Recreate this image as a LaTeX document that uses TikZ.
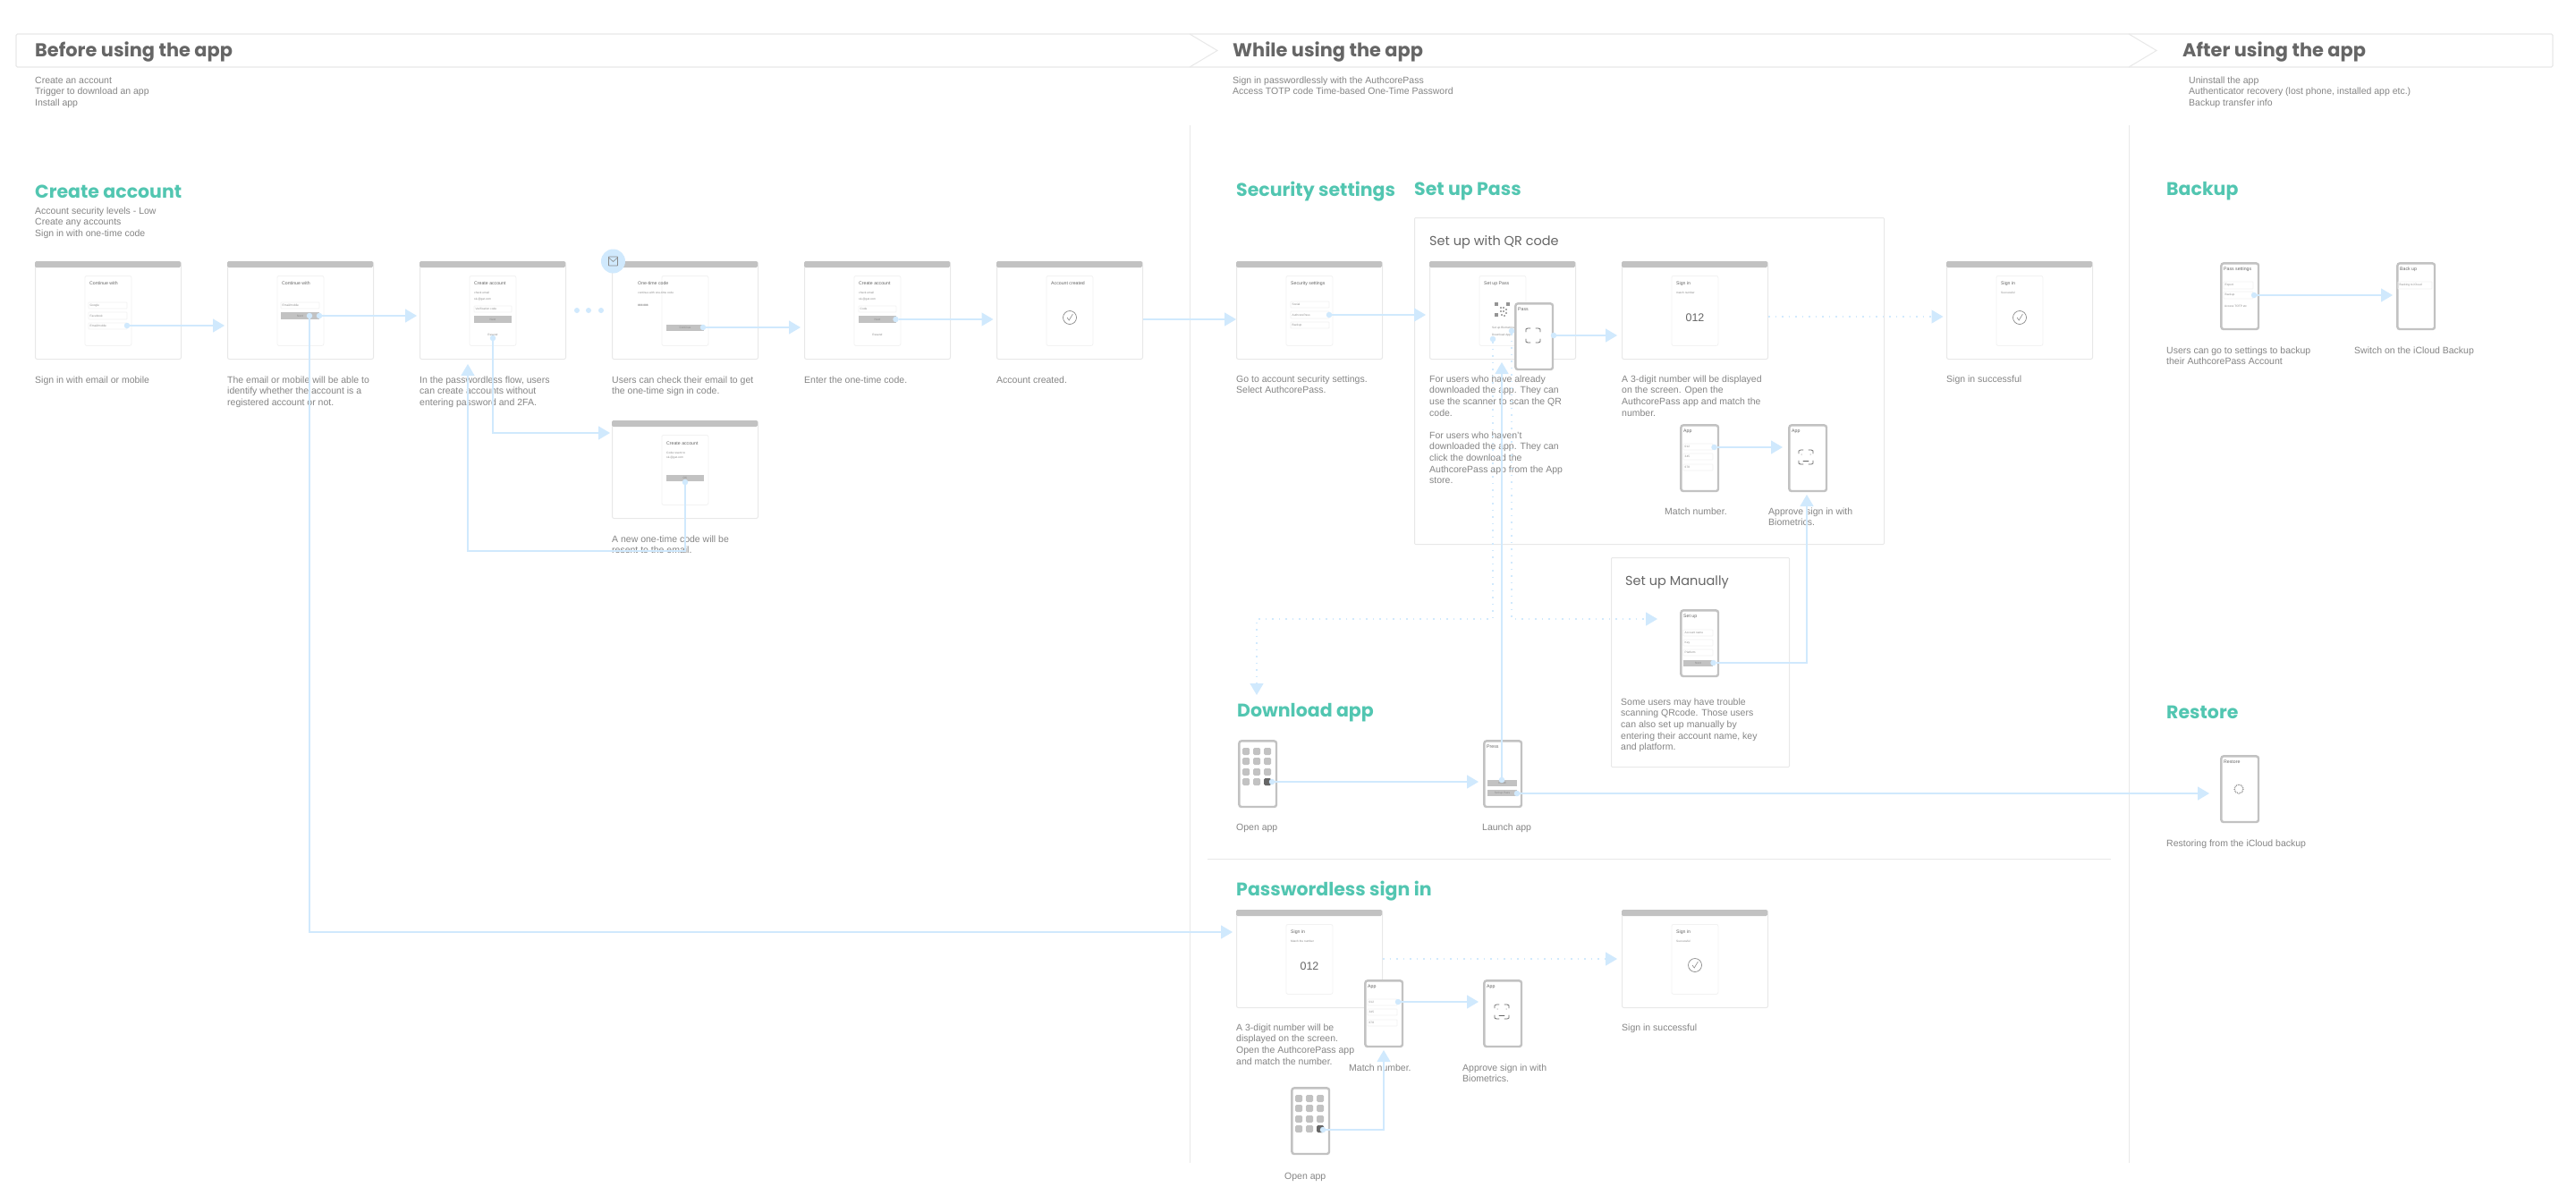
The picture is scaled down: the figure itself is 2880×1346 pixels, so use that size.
\documentclass[tikz,border=0pt]{standalone}
\usepackage{fontspec}
\setmainfont{Liberation Sans}
\newfontfamily\popf{Poppins}
\usetikzlibrary{arrows.meta}
\definecolor{flowc}{HTML}{D0E9FD}
\definecolor{teal1}{HTML}{52C6B1}
\definecolor{hdtxt}{HTML}{666666}
\definecolor{captxt}{HTML}{858585}
\definecolor{uigray}{HTML}{C2C2C2}
\definecolor{edge1}{HTML}{E8E8E8}
\definecolor{edge2}{HTML}{F2F2F2}
\definecolor{tinyc}{HTML}{8A8A8A}
\newcounter{nc}
\tikzset{
 flow/.style={draw=flowc,line width=1.3pt,-{Triangle[length=13pt,width=15pt,fill=flowc]}},
 flowdot/.style={flow,dash pattern=on 1.5pt off 6pt},
 startdot/.style={circle,fill=flowc,inner sep=0pt,minimum size=6.5pt},
 framebox/.style={draw=edge1,fill=white,line width=1pt,rounded corners=2pt,inner sep=0pt,minimum width=163pt,minimum height=109pt,anchor=north west},
 cardbox/.style={draw=edge2,fill=white,line width=.8pt,rounded corners=2pt,inner sep=0pt,minimum width=52pt,minimum height=78pt,anchor=north west},
 phonebox/.style={draw=uigray,fill=white,line width=2.4pt,rounded corners=2.5pt,inner sep=0pt,minimum width=41.6pt,minimum height=73.6pt,anchor=north west},
 groupbox/.style={draw=edge1,line width=1pt,rounded corners=1pt,inner sep=0pt,anchor=north west},
 divider/.style={draw=edge1,line width=1pt},
 bigt/.style={font=\popf\bfseries\fontsize{20.9}{24}\selectfont,text=hdtxt,anchor=west,inner sep=0pt},
 sect/.style={font=\popf\bfseries\fontsize{20.5}{24}\selectfont,text=teal1,anchor=west,inner sep=0pt},
 subt/.style={font=\popf\fontsize{14.5}{18}\selectfont,text=hdtxt,anchor=west,inner sep=0pt},
 captn/.style={font=\fontsize{10.5}{12.67}\selectfont,text=captxt,align=left,anchor=north west,inner sep=0pt},
 tiny1/.style={font=\fontsize{3.2}{4}\selectfont,text=tinyc,inner sep=0pt},
 title1/.style={font=\fontsize{5.2}{6}\selectfont,text=hdtxt,inner sep=0pt,anchor=west},
 field1/.style={draw=edge2,line width=.7pt,rounded corners=.6pt},
 btn1/.style={fill=uigray},
 uiln/.style={draw=hdtxt,line width=.7pt,line cap=round}
}
\newcommand\bigT[3]{\stepcounter{nc}\node (n\arabic{nc}) [bigt] at ({#1},{#2+1}) {#3};}
\newcommand\secT[3]{\stepcounter{nc}\node (n\arabic{nc}) [sect] at ({#1},{#2+1}) {#3};}
\newcommand\subT[3]{\stepcounter{nc}\node (n\arabic{nc}) [subt] at ({#1},{#2+1}) {#3};}
\newcommand\capT[3]{\stepcounter{nc}\node (n\arabic{nc}) [captn] at ({#1},{#2-4}) {\rule{0pt}{8pt}#3};}
\newcommand\mt[3]{\stepcounter{nc}\node (n\arabic{nc}) [tiny1,anchor=west] at ({#1},{#2}) {#3};}
\newcommand\mc[3]{\stepcounter{nc}\node (n\arabic{nc}) [tiny1] at ({#1},{#2}) {#3};}
\newcommand\ttl[3]{\stepcounter{nc}\node (n\arabic{nc}) [title1] at ({#1},{#2}) {#3};}
\newcommand\fld[5]{\draw[field1] (#1,#2) rectangle (#3,#4);\mt{#1+1.5}{(#2+#4)/2}{#5}}
\newcommand\btn[5]{\fill[btn1] (#1,#2) rectangle (#3,#4);\mc{(#1+#3)/2}{(#2+#4)/2}{#5}}
\newcommand\chk[2]{\draw[draw=tinyc,line width=.7pt] (#1,#2) circle[radius=7.5];
 \draw[draw=tinyc,line width=.6pt] ({#1-3},{#2}) -- ({#1-.8},{#2+3}) -- ({#1+3.4},{#2-4});}
\newcommand\scan[2]{\begin{scope}[shift={(#1,#2)}]
 \draw[uiln] (-8,-4) -- (-8,-7) -- (-6,-8) -- (-3,-8);\draw[uiln] (8,-4) -- (8,-7) -- (6,-8) -- (3,-8);
 \draw[uiln] (-8,4) -- (-8,7) -- (-6,8) -- (-3,8);\draw[uiln] (8,4) -- (8,7) -- (6,8) -- (3,8);\end{scope}}
\newcommand\browser[4]{%
 \node (#1) [framebox] at (#2,#3) {};
 \begin{scope}[shift={(#2,#3)}]
 \fill[uigray,rounded corners=1.5pt] (0,7) -- (0,0) -- (163,0) -- (163,7) -- cycle;
 \node (#1card) [cardbox] at (55.5,16) {};
 #4
 \end{scope}}
\newcommand\phone[5]{%
 \node (#1) [phonebox] at ({#2+1.2},{#3+1.2}) {};
 \begin{scope}[shift={(#2,#3)}]
 \ttl{5}{9}{#4}
 #5
 \end{scope}}
\newcommand\homeicons{\foreach \ya in {14,25,37,48}{\foreach \xa in {10,22,34}{\fill[uigray,rounded corners=1.5pt] (\xa-4,\ya-4) rectangle (\xa+4,\ya+4);}}
 \fill[hdtxt,rounded corners=1.5pt] (30,44) rectangle (38,52);}
\begin{document}
\begin{tikzpicture}[x=1pt,y=-1pt]
\useasboundingbox (0,0) rectangle (2880,1346);
\fill[white] (0,0) rectangle (2880,1346);

% header band
\draw[draw=edge1,line width=1.2pt,rounded corners=1.5pt] (18,38) rectangle (2854,75);
\fill[white] (1330,38.8) -- (1361,56.5) -- (1330,74.2) -- cycle;
\fill[white] (2380,38.8) -- (2411,56.5) -- (2380,74.2) -- cycle;
\draw[draw=edge1,line width=1pt] (1330,38) -- (1361,56.5) -- (1330,75);
\draw[draw=edge1,line width=1pt] (2380,38) -- (2411,56.5) -- (2380,75);
\bigT{39}{57}{Before using the app}
\bigT{1378}{57}{While using the app}
\bigT{2440}{57}{After using the app}
\capT{39}{89}{Create an account\\Trigger to download an app\\Install app}
\capT{1378}{89}{Sign in passwordlessly with the AuthcorePass\\Access TOTP code Time-based One-Time Password}
\capT{2447}{89}{Uninstall the app\\Authenticator recovery (lost phone, installed app etc.)\\Backup transfer info}

% dividers
\coordinate (v1t) at (1330,140);\coordinate (v1b) at (1330,1300);
\coordinate (v2t) at (2380,140);\coordinate (v2b) at (2380,1300);
\coordinate (h1l) at (1350,960);\coordinate (h1r) at (2360,960);
\draw[divider] (v1t) -- (v1b);
\draw[divider] (v2t) -- (v2b);
\draw[divider] (h1l) -- (h1r);

% section headings
\secT{39}{213}{Create account}
\capT{39}{235}{Account security levels - Low\\Create any accounts\\Sign in with one-time code}
\secT{1382}{213}{Security settings}
\secT{1581}{213}{Set up Pass}
\secT{2422}{213}{Backup}
\secT{1383}{796}{Download app}
\secT{2422}{795}{Restore}
\secT{1382}{995}{Passwordless sign in}

% group boxes
\node (qrbox) [groupbox,minimum width=525pt,minimum height=365pt] at (1581,243) {};
\node (manbox) [groupbox,minimum width=199pt,minimum height=234pt] at (1801,623) {};
\subT{1598}{270}{Set up with QR code}
\subT{1817}{650}{Set up Manually}

% screens
\browser{f1}{39}{292}{\ttl{61}{25}{Continue with}
 \fld{60}{46}{103}{53}{Google}\fld{60}{57}{103}{65}{Facebook}\fld{60}{69}{103}{76}{Email/mobile}}
\browser{f2}{254}{292}{\ttl{61}{25}{Continue with}
 \fld{60}{46}{103}{53}{Email/mobile}\btn{60}{57}{103}{65}{Next}}
\browser{f3}{469}{292}{\ttl{61}{25}{Create account}\mt{61}{35}{check email}\mt{61}{43}{sk-@gat.com}
 \fld{61}{50}{103}{57}{Verification code}\btn{61}{61}{103}{69}{Next}\mc{82}{82}{Resend}}
\browser{f4}{684}{292}{\ttl{29}{25}{One-time code}\mt{29}{35}{continue with one-time code}
 \mt{29}{49}{\bfseries 888 888}\btn{61}{71}{103}{78}{Continue}}
\browser{f5}{899}{292}{\ttl{61}{25}{Create account}\mt{61}{35}{check email}\mt{61}{43}{sk-@gat.com}
 \fld{61}{50}{103}{57}{Code}\btn{61}{61}{103}{69}{Next}\mc{82}{82}{Resend}}
\browser{f6}{1114}{292}{\ttl{61}{25}{Account created}\chk{82}{63}}
\browser{f11}{684}{470}{\ttl{61}{26}{Create account}\mt{61}{36}{Code resent to}\mt{61}{42}{sk-@gat.com}
 \btn{61}{61}{103}{68}{OK}}
\browser{f7}{1382}{292}{\ttl{61}{25}{Security settings}
 \fld{61}{45}{104}{52}{Social}\fld{61}{56}{104}{64}{AuthcorePass}\fld{61}{68}{104}{75}{Backup}}
\browser{f8}{1598}{292}{\ttl{61}{25}{Set up Pass}
 \foreach \qx/\qy in {75/48,88/48,75/60}{\fill[hdtxt!70] (\qx-2,\qy-2) rectangle (\qx+2,\qy+2);}
 \foreach \qx/\qy in {80/52,83/52,80/56,83/56,86/54,86/58,81/60,84/61}{\fill[hdtxt!55] (\qx-.6,\qy-.6) rectangle (\qx+.6,\qy+.6);}
 \mt{70}{75}{Set up Biometrics}\mt{70}{83}{Download App}}
\browser{f9}{1813}{292}{\ttl{61}{25}{Sign in}\mt{61}{35}{match number}
 \stepcounter{nc}\node (n\arabic{nc}) [font=\fontsize{12.5}{14}\selectfont,text=hdtxt,inner sep=0pt] at (82,63) {012};}
\browser{f10}{2176}{292}{\ttl{61}{25}{Sign in}\mt{61}{35}{Successful}\chk{82}{63}}
\browser{f12}{1382}{1017}{\ttl{61}{25}{Sign in}\mt{61}{35}{Match the number}
 \stepcounter{nc}\node (n\arabic{nc}) [font=\fontsize{12.5}{14}\selectfont,text=hdtxt,inner sep=0pt] at (82,63) {012};}
\browser{f13}{1813}{1017}{\ttl{61}{25}{Sign in}\mt{61}{35}{Successful}\chk{82}{62}}

% phones
\phone{p1}{1692}{337}{Pass}{\scan{22}{38}}
\phone{p2}{1877}{473}{App}{\fld{5}{23}{38}{30}{012}\fld{5}{34}{38}{41}{345}\fld{5}{46}{38}{53}{678}}
\phone{p3}{1998}{473}{App}{\scan{21}{38}\fill[hdtxt] (16,35) circle[radius=.5];\fill[hdtxt] (26,35) circle[radius=.5];\draw[uiln] (18,42) -- (24,42);}
\phone{p4}{1877}{680}{Set up}{\fld{5}{24}{38}{31}{Account name}\fld{5}{35}{38}{42}{Key}\fld{5}{46}{38}{53}{Platform}\btn{5}{58}{38}{65}{Next}}
\node (p5) [phonebox] at (1384.2,827.2) {};
\begin{scope}[shift={(1383,826)}]\homeicons\end{scope}
\phone{p6}{1657}{826}{Press}{\btn{6}{46}{39}{53}{Install}\btn{6}{57}{39}{64}{Set up Pass}}
\phone{p7}{2481}{843}{Restore}{\draw[draw=tinyc,line width=1.4pt,dash pattern=on .8pt off 1pt] (22,39) circle[radius=5];}
\phone{p8}{2481}{292}{Pass settings}{\fld{5}{23}{38}{31}{Export}\fld{5}{34}{38}{42}{Backup}\mt{6}{50}{Access TOTP etc}}
\phone{p9}{2678}{292}{Back up}{\fld{3}{23}{41}{31}{Backing to iCloud}}
\phone{p10}{1524}{1094}{App}{\fld{5}{23}{38}{30}{012}\fld{5}{34}{38}{41}{345}\fld{5}{46}{38}{53}{678}}
\phone{p11}{1657}{1094}{App}{\scan{22}{37}\fill[hdtxt] (17,34) circle[radius=.5];\fill[hdtxt] (27,34) circle[radius=.5];\draw[uiln] (19,41) -- (25,41);}
\node (p12) [phonebox] at (1443.2,1215.2) {};
\begin{scope}[shift={(1442,1214)}]\homeicons\end{scope}

% captions
\capT{39}{424}{Sign in with email or mobile}
\capT{254}{424}{The email or mobile will be able to\\identify whether the account is a\\registered account or not.}
\capT{469}{424}{In the passwordless flow, users\\can create accounts without\\entering password and 2FA.}
\capT{684}{424}{Users can check their email to get\\the one-time sign in code.}
\capT{899}{424}{Enter the one-time code.}
\capT{1114}{424}{Account created.}
\capT{684}{602}{A new one-time code will be\\resent to the email.}
\capT{1382}{423}{Go to account security settings.\\Select AuthcorePass.}
\capT{1598}{423}{For users who have already\\downloaded the app. They can\\use the scanner to scan the QR\\code.}
\capT{1598}{486}{For users who haven't\\downloaded the app. They can\\click the download the\\AuthcorePass app from the App\\store.}
\capT{1813}{423}{A 3-digit number will be displayed\\on the screen. Open the\\AuthcorePass app and match the\\number.}
\capT{2176}{423}{Sign in successful}
\capT{1861}{571}{Match number.}
\capT{1977}{571}{Approve sign in with\\Biometrics.}
\capT{1812}{784}{Some users may have trouble\\scanning QRcode. Those users\\can also set up manually by\\entering their account name, key\\and platform.}
\capT{1382}{924}{Open app}
\capT{1657}{924}{Launch app}
\capT{1382}{1148}{A 3-digit number will be\\displayed on the screen.\\Open the AuthcorePass app\\and match the number.}
\capT{1508}{1193}{Match number.}
\capT{1635}{1193}{Approve sign in with\\Biometrics.}
\capT{1813}{1148}{Sign in successful}
\capT{1436}{1314}{Open app}
\capT{2422}{391}{Users can go to settings to backup\\their AuthcorePass Account}
\capT{2632}{391}{Switch on the iCloud Backup}
\capT{2422}{942}{Restoring from the iCloud backup}

% ellipsis and mail badge
\foreach \dx in {645,658,672}{\fill[flowc] (\dx,347) circle[radius=3];}
\node (mailb) [circle,fill=flowc,inner sep=0pt,minimum size=27pt] at (685.5,292) {};
\draw[draw=tinyc,line width=.8pt,rounded corners=.5pt] (680.5,287) rectangle (690.5,297);
\draw[draw=tinyc,line width=.6pt] (680.5,288) -- (685.5,292.5) -- (690.5,288);

% connector start dots
\node[startdot] (d1) at (142,364) {};
\node[startdot] (d2) at (357,353) {};
\node[startdot] (d3) at (346,353) {};
\node[startdot] (d4) at (551,378) {};
\node[startdot] (d5) at (766,539) {};
\node[startdot] (d6) at (786,366) {};
\node[startdot] (d7) at (1001.5,357) {};
\node[startdot] (d9) at (1486,352) {};
\node[startdot] (d10) at (1737,375) {};
\node[startdot] (d12) at (1916.5,500) {};
\node[startdot] (d13) at (1915.5,741) {};
\node[startdot] (d14) at (1679,872) {};
\node[startdot] (d15) at (1669,379) {};
\node[startdot] (d16) at (1690,370) {};
\node[startdot] (d17) at (1422,874) {};
\node[startdot] (d18) at (1696,887) {};
\node[startdot] (d20) at (1563,1120) {};
\node[startdot] (d21) at (1479,1263) {};
\node[startdot] (d22) at (2520,330) {};

% connector ends
\coordinate (e1) at (251,364);
\coordinate (e2) at (466,353);
\coordinate (e3) at (1378,1042);
\coordinate (e4) at (682,484);
\coordinate (b5) at (523,616);
\coordinate (e5) at (523,407);
\coordinate (e6) at (895,366);
\coordinate (e7) at (1110.5,357);
\coordinate (e8) at (1382,357);
\coordinate (e9) at (1594,352);
\coordinate (e10) at (1808,375);
\coordinate (e11) at (2172.5,354);
\coordinate (e12) at (1993,500);
\coordinate (e13) at (2020,553);
\coordinate (e14) at (1679,405);
\coordinate (b15) at (1405,692);
\coordinate (e15) at (1405,777);
\coordinate (e16) at (1853,692);
\coordinate (e17) at (1653,874);
\coordinate (e18) at (2470,887);
\coordinate (e19) at (1808,1072);
\coordinate (e20) at (1653,1120);
\coordinate (e21) at (1547,1174);
\coordinate (e22) at (2675,330);

\draw[flow] (d1) -- (e1);
\draw[flow] (d2) -- (e2);
\draw[flow] (d3) |- (e3);
\draw[flow] (d4) |- (e4);
\draw[flow] (d5) |- (b5) -- (e5);
\draw[flow] (d6) -- (e6);
\draw[flow] (d7) -- (e7);
\draw[flow] (f6.east |- e8) -- (e8);
\draw[flow] (d9) -- (e9);
\draw[flow] (d10) -- (e10);
\draw[flowdot] (f9.east |- e11) -- (e11);
\draw[flow] (d12) -- (e12);
\draw[flow] (d13) -| (e13);
\draw[flow] (d14) -- (e14);
\draw[flowdot] (d15) |- (b15) -- (e15);
\draw[flowdot] (d16) |- (e16);
\draw[flow] (d17) -- (e17);
\draw[flow] (d18) -- (e18);
\draw[flowdot] (f12.east |- e19) -- (e19);
\draw[flow] (d20) -- (e20);
\draw[flow] (d21) -| (e21);
\draw[flow] (d22) -- (e22);
\end{tikzpicture}
\end{document}
